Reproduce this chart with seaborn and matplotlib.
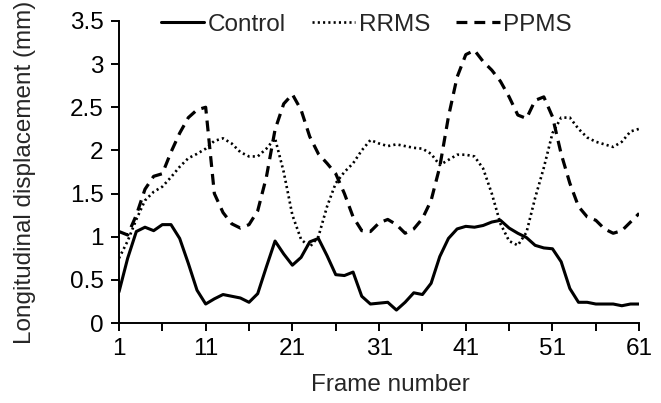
import matplotlib
matplotlib.use("Agg")
import matplotlib.pyplot as plt
import numpy as np
import pandas as pd
import seaborn as sns

# Frame numbers and displacement values (mm)
frames = list(range(1, 62))
control = [0.36, 0.75, 1.06, 1.11, 1.07, 1.14, 1.14, 0.98, 0.69, 0.38,
           0.22, 0.28, 0.33, 0.31, 0.29, 0.24, 0.34, 0.65, 0.95, 0.80,
           0.67, 0.76, 0.94, 0.98, 0.78, 0.56, 0.55, 0.59, 0.31, 0.22,
           0.23, 0.24, 0.15, 0.24, 0.35, 0.33, 0.46, 0.77, 0.98, 1.09,
           1.12, 1.11, 1.13, 1.17, 1.19, 1.10, 1.04, 0.99, 0.90, 0.87,
           0.86, 0.71, 0.40, 0.24, 0.24, 0.22, 0.22, 0.22, 0.20, 0.22, 0.22]
rrms = [0.75, 0.95, 1.20, 1.42, 1.52, 1.58, 1.69, 1.81, 1.91, 1.96,
        2.02, 2.11, 2.14, 2.08, 1.98, 1.93, 1.93, 2.02, 2.14, 1.75,
        1.25, 0.97, 0.88, 1.00, 1.35, 1.62, 1.75, 1.85, 2.00, 2.12,
        2.08, 2.05, 2.07, 2.05, 2.03, 2.02, 1.96, 1.83, 1.89, 1.95,
        1.95, 1.93, 1.79, 1.50, 1.15, 0.95, 0.90, 1.05, 1.45, 1.80,
        2.20, 2.38, 2.38, 2.25, 2.15, 2.10, 2.07, 2.04, 2.10, 2.22, 2.25]
ppms = [1.06, 1.02, 1.25, 1.55, 1.70, 1.73, 1.98, 2.20, 2.38, 2.47,
        2.50, 1.50, 1.28, 1.15, 1.10, 1.14, 1.30, 1.69, 2.24, 2.54,
        2.65, 2.47, 2.16, 1.96, 1.85, 1.73, 1.50, 1.23, 1.07, 1.06,
        1.16, 1.20, 1.14, 1.04, 1.09, 1.21, 1.42, 1.81, 2.39, 2.85,
        3.11, 3.16, 3.03, 2.93, 2.80, 2.62, 2.41, 2.37, 2.58, 2.62,
        2.39, 1.96, 1.62, 1.35, 1.23, 1.19, 1.09, 1.04, 1.07, 1.17, 1.27]

xTicks = [1, 11, 21, 31, 41, 51, 61]
xMinorTicks = [6, 16, 26, 36, 46, 56]
yTicks = [0, 0.5, 1, 1.5, 2, 2.5, 3, 3.5]
yTickLabels = ["0", "0.5", "1", "1.5", "2", "2.5", "3", "3.5"]

df = pd.DataFrame({"Frame": frames, "Control": control, "RRMS": rrms, "PPMS": ppms})

fontSize = 17.5
sns.set_style("ticks")
plt.rcParams["font.family"] = ["Liberation Sans", "DejaVu Sans"]
plt.rcParams["font.size"] = fontSize

fig = plt.figure(figsize=(6.61, 4.03), dpi=100)
ax = fig.add_axes([0.180, 0.1985, 0.787, 0.7495])

# one call per group so each gets its own line style
sns.lineplot(data=df, x="Frame", y="Control", ax=ax, color="black", lw=2.2,
             label="Control")
sns.lineplot(data=df, x="Frame", y="RRMS", ax=ax, color="black", lw=1.9,
             linestyle=(0, (0.8, 1.2)), label="RRMS")
sns.lineplot(data=df, x="Frame", y="PPMS", ax=ax, color="black", lw=2.3,
             linestyle=(0, (3.4, 2.2)), label="PPMS")

ax.set_xlim(1, 61)
ax.set_ylim(0, 3.5)
ax.set_xticks(xTicks)
ax.set_xticks(xMinorTicks, minor=True)
ax.set_yticks(yTicks)
ax.set_yticklabels(yTickLabels)
ax.tick_params(which="both", direction="out", length=6, width=1.4, color="black",
               labelsize=fontSize, labelcolor="black", pad=5)

ax.set_xlabel("Frame number", fontsize=fontSize)
ax.set_ylabel("Longitudinal displacement (mm)", fontsize=fontSize, labelpad=24)
ax.xaxis.set_label_coords(0.521, -0.168)

sns.despine(ax=ax)
for side in ["left", "bottom"]:
    ax.spines[side].set_linewidth(1.4)
    ax.spines[side].set_color("black")

ax.legend(loc="center", bbox_to_anchor=(0.554, 0.938), bbox_transform=fig.transFigure,
          ncol=3, frameon=False, handlelength=1.8, handletextpad=0.15,
          columnspacing=1.05, fontsize=fontSize, borderpad=0)

fig.savefig("out.png", dpi=100)
